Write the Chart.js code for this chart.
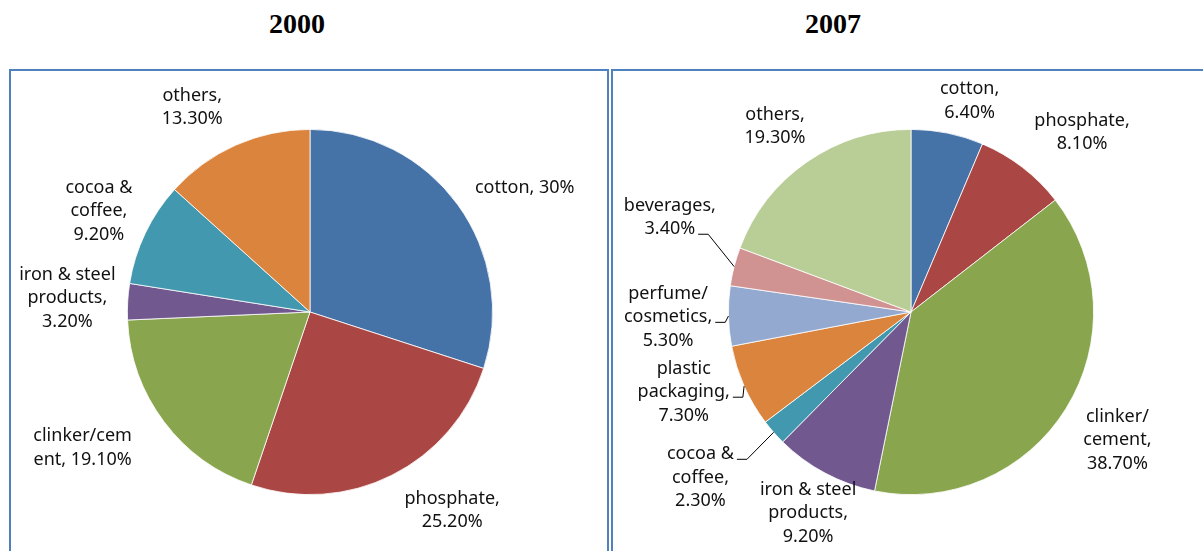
<!DOCTYPE html>
<html>
<head>
<meta charset="utf-8">
<script src="https://cdn.jsdelivr.net/npm/chart.js@4.4.1/dist/chart.umd.min.js"></script>
<style>
  body { margin: 0; width: 1203px; height: 551px; overflow: hidden; background: #fff; position: relative; }
  .title { position: absolute; top: 8px; font: bold 28px "Liberation Serif", "Times New Roman", serif; color: #000; text-align: center; width: 200px; }
  .box { position: absolute; top: 69px; height: 520px; box-sizing: border-box; border: 2px solid #4F81BD; }
  canvas { position: absolute; top: 70px; }
</style>
</head>
<body>
<div class="title" style="left:197px">2000</div>
<div class="title" style="left:733px">2007</div>
<div class="box" style="left:9px; width:600px"></div>
<div class="box" style="left:611px; width:700px"></div>
<canvas id="pie2000" width="598" height="481" style="left:10px"></canvas>
<canvas id="pie2007" width="591" height="481" style="left:612px"></canvas>
<script>
// 2000 export shares
const names2000 = ['cotton', 'phosphate', 'clinker/cem\nent', 'iron & steel\nproducts', 'cocoa &\ncoffee', 'others'];
const joins2000 = [', ', ',\n', ', ', ',\n', ',\n', ',\n'];
const values2000 = [30, 25.2, 19.1, 3.2, 9.2, 13.3];
const colors2000 = ['#4572A7', '#AA4643', '#89A54E', '#71588F', '#4198AF', '#DB843D'];

// 2007 export shares
const names2007 = ['cotton', 'phosphate', 'clinker/\ncement', 'iron & steel\nproducts', 'cocoa &\ncoffee',
                   'plastic\npackaging', 'perfume/\ncosmetics', 'beverages', 'others'];
const joins2007 = [',\n', ',\n', ',\n', ',\n', ',\n', ',\n', ',\n', ',\n', ',\n'];
const values2007 = [6.4, 8.1, 38.7, 9.2, 2.3, 7.3, 5.3, 3.4, 19.3];
const colors2007 = ['#4572A7', '#AA4643', '#89A54E', '#71588F', '#4198AF', '#DB843D', '#93A9CF', '#D19392', '#B9CD96'];

// label placement: distance of label centre from pie centre, angle shift from slice middle (deg)
const place2000 = [[248, 6], [244, -9], [265, 6], [243, 0], [234, 0], [236, -6]];
const place2007 = [[219, 4], [248, 6], [243, 0], [226, -1], [268, 3], [241, 4.5], [243, 0], [259, 7], [230, -1.5]];
// leader lines: slice index -> text line it starts from
const leaders2000 = {};
const leaders2007 = { 4: 0, 5: 1, 6: 1, 7: 1 };

const fmt = v => (v % 1 === 0 ? v : v.toFixed(2)) + '%';

const pieLabels = {
  id: 'pieLabels',
  afterDatasetsDraw(chart, args, opts) {
    const ctx = chart.ctx;
    const meta = chart.getDatasetMeta(0);
    const ds = chart.data.datasets[0];
    const lh = 23.5;
    ctx.save();
    ctx.font = '18px "Noto Sans", Lato, sans-serif';
    ctx.fillStyle = '#111';
    ctx.strokeStyle = '#000';
    ctx.lineWidth = 1;
    ctx.textAlign = 'center';
    ctx.textBaseline = 'middle';
    meta.data.forEach((arc, i) => {
      const p = arc.getProps(['x', 'y', 'startAngle', 'endAngle', 'outerRadius'], true);
      const mid = (p.startAngle + p.endAngle) / 2;
      const [dist, shift] = opts.place[i];
      const a = mid + shift * Math.PI / 180;
      const cx = p.x + Math.cos(a) * dist;
      const cy = p.y + Math.sin(a) * dist;
      const lines = (opts.names[i] + opts.joins[i] + fmt(ds.data[i])).split('\n');
      const top = cy - (lines.length - 1) * lh / 2;
      lines.forEach((t, k) => ctx.fillText(t, cx, top + k * lh));
      if (opts.leaders[i] !== undefined) {
        const k = opts.leaders[i];
        const w = ctx.measureText(lines[k]).width;
        const sx = cx + w / 2 + 3;
        const sy = top + k * lh + 5;
        const ex = p.x + Math.cos(mid) * p.outerRadius;
        const ey = p.y + Math.sin(mid) * p.outerRadius;
        ctx.beginPath();
        ctx.moveTo(sx, sy);
        ctx.lineTo(sx + 10, sy);
        ctx.lineTo(ex, ey);
        ctx.stroke();
      }
    });
    ctx.restore();
  }
};

function makePie(id, names, joins, values, colors, place, leaders, padding) {
  new Chart(document.getElementById(id), {
    type: 'pie',
    data: {
      labels: names.map(n => n.replace('\n', ' ')),
      datasets: [{
        data: values,
        backgroundColor: colors,
        borderColor: '#ffffff',
        borderWidth: 0.8
      }]
    },
    options: {
      responsive: false,
      animation: false,
      layout: { padding: padding },
      plugins: {
        legend: { display: false },
        tooltip: { enabled: false },
        pieLabels: { names, joins, place, leaders }
      }
    },
    plugins: [pieLabels]
  });
}

makePie('pie2000', names2000, joins2000, values2000, colors2000, place2000, leaders2000,
  { left: 117, right: 115, top: 59, bottom: 56 });
makePie('pie2007', names2007, joins2007, values2007, colors2007, place2007, leaders2007,
  { left: 116, right: 109, top: 59, bottom: 56 });
</script>
</body>
</html>
